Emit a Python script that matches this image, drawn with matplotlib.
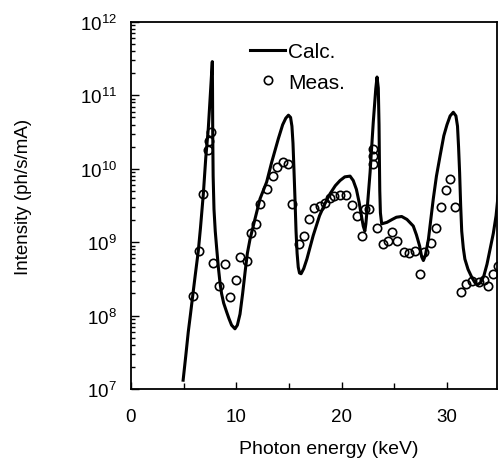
import matplotlib
matplotlib.use("Agg")
import matplotlib.pyplot as plt
import numpy as np
from matplotlib.ticker import LogLocator, FixedLocator, FuncFormatter, NullFormatter

plt.rcParams['font.family'] = ['Liberation Sans', 'DejaVu Sans']
plt.rcParams['mathtext.fontset'] = 'custom'
plt.rcParams['mathtext.rm'] = 'Liberation Sans'
plt.rcParams['mathtext.it'] = 'Liberation Sans:italic'
plt.rcParams['mathtext.bf'] = 'Liberation Sans:bold'

# calculated spectrum (photon energy keV, log10 intensity)
calc_x = [4.95, 5.2, 5.44, 5.65, 5.86, 6.1, 6.39, 6.6, 6.87, 7.1, 7.34, 7.55, 7.72,
          7.74, 7.76, 7.8, 7.88, 8.0, 8.14, 8.3, 8.45, 8.6, 8.8, 9.08, 9.3, 9.55,
          9.87, 10.1, 10.35, 10.6, 10.83, 11.05, 11.3, 11.78, 12.25, 12.88, 13.36,
          13.99, 14.4, 14.7, 14.95, 15.15, 15.28, 15.38, 15.47, 15.57, 15.67, 15.77,
          15.88, 16.0, 16.15, 16.4, 16.7, 17.0, 17.3, 17.9, 18.4, 18.9, 19.4, 19.85,
          20.3, 20.8, 21.1, 21.4, 21.65, 21.9, 22.05, 22.2, 22.3, 22.45, 22.7, 23.0,
          23.24, 23.36, 23.48, 23.55, 23.58, 23.62, 23.68, 23.8, 24.3, 24.8, 25.2,
          25.7, 26.2, 26.8, 27.1, 27.4, 27.6, 27.76, 27.95, 28.24, 28.7, 29.0, 29.35,
          29.7, 30.0, 30.3, 30.6, 30.85, 31.0, 31.1, 31.2, 31.3, 31.4, 31.55, 31.7,
          32.0, 32.36, 32.65, 32.9, 33.2, 33.5, 33.8, 34.1, 34.4, 34.66, 34.85]
calc_logy = [7.12, 7.45, 7.78, 8.02, 8.27, 8.55, 8.88, 9.2, 9.66, 10.15, 10.55, 11.05, 11.46,
             11.1, 10.5, 9.9, 9.45, 9.15, 8.91, 8.65, 8.45, 8.3, 8.17, 8.05, 7.96, 7.87,
             7.82, 7.87, 8.02, 8.3, 8.59, 8.85, 9.04, 9.32, 9.59, 9.82, 10.09,
             10.41, 10.6, 10.69, 10.73, 10.7, 10.58, 10.35, 10.0, 9.59, 9.15, 8.85,
             8.66, 8.58, 8.57, 8.64, 8.77, 8.93, 9.09, 9.36, 9.52, 9.66, 9.77, 9.84,
             9.89, 9.9, 9.84, 9.72, 9.55, 9.34, 9.22, 9.15, 9.25, 9.5, 9.95, 10.63,
             11.09, 11.25, 11.1, 10.6, 10.18, 9.7, 9.4, 9.25, 9.27, 9.31, 9.34,
             9.35, 9.31, 9.22, 9.1, 8.95, 8.8, 8.75, 8.82, 9.04, 9.59, 9.9, 10.18,
             10.45, 10.6, 10.72, 10.77, 10.72, 10.58, 10.3, 9.95, 9.5, 9.15, 8.92, 8.77,
             8.63, 8.52, 8.45, 8.42, 8.45, 8.54, 8.7, 8.91, 9.12, 9.36, 9.63]

# measured points
meas_x = [5.88, 6.45, 6.87, 7.35, 7.45, 7.55, 7.77, 8.34, 8.9, 9.38, 9.95, 10.33,
          11.0, 11.37, 11.85, 12.23, 12.9, 13.46, 13.84, 14.4, 14.88, 15.25, 15.95,
          16.4, 16.93, 17.4, 17.9, 18.4, 18.86, 19.3, 19.8, 20.4, 20.96, 21.43, 21.9,
          22.2, 22.6, 22.95, 22.95, 22.95, 23.4, 23.9, 24.4, 24.8, 25.25, 25.9, 26.4,
          27.0, 27.4, 27.8, 28.5, 29.0, 29.4, 29.9, 30.3, 30.8, 31.3, 31.8, 32.4,
          33.0, 33.5, 33.9, 34.4, 34.8]
meas_logy = [8.27, 8.88, 9.66, 10.25, 10.38, 10.5, 8.72, 8.40, 8.70, 8.25, 8.49, 8.80,
             8.74, 9.13, 9.25, 9.52, 9.72, 9.90, 10.02, 10.09, 10.07, 9.52, 8.98,
             9.08, 9.31, 9.46, 9.49, 9.53, 9.60, 9.63, 9.64, 9.64, 9.5, 9.35, 9.08,
             9.45, 9.45, 10.07, 10.17, 10.27, 9.20, 8.98, 9.02, 9.14, 9.02, 8.87, 8.85,
             8.88, 8.57, 8.87, 8.99, 9.19, 9.48, 9.71, 9.86, 9.48, 8.32, 8.43, 8.47,
             8.46, 8.49, 8.40, 8.57, 8.68]

x_major = [0, 10, 20, 30]
x_minor = [5, 15, 25]
y_decades = [7, 8, 9, 10, 11, 12]

fig = plt.figure(figsize=(4.99, 4.64), dpi=100)
ax = fig.add_axes([0.2625, 0.1595, 0.7335, 0.791])

ax.plot(calc_x, 10 ** np.array(calc_logy), '-', color='black', lw=2.2, label='Calc.',
        solid_joinstyle='round')
ax.plot(meas_x, 10 ** np.array(meas_logy), 'o', mfc='none', mec='black', ms=6, mew=1.2,
        label='Meas.')

ax.set_yscale('log')
ax.set_xlim(0, 34.75)
ax.set_ylim(1e7, 1e12)

ax.xaxis.set_major_locator(FixedLocator(x_major))
ax.xaxis.set_minor_locator(FixedLocator(x_minor))
ax.yaxis.set_major_locator(FixedLocator([10.0 ** d for d in y_decades]))
ax.yaxis.set_minor_locator(LogLocator(base=10, subs=np.arange(2, 10)))
ax.yaxis.set_minor_formatter(NullFormatter())
ax.yaxis.set_major_formatter(FuncFormatter(
    lambda v, p: r'$\mathregular{10^{%d}}$' % round(np.log10(v))))

ax.tick_params(which='both', direction='in', width=1.0, top=False, right=False)
ax.tick_params(axis='x', which='major', length=5, pad=14, labelsize=13.5)
ax.tick_params(axis='x', which='minor', length=4)
ax.tick_params(axis='y', which='major', length=6, pad=10, labelsize=13.5)
ax.tick_params(axis='y', which='minor', length=3)

for s in ax.spines.values():
    s.set_linewidth(1.3)

ax.set_xlabel('Photon energy (keV)', fontsize=14)
ax.set_ylabel('Intensity (ph/s/mA)', fontsize=13.5)
ax.xaxis.set_label_coords(0.54, -0.14)
ax.yaxis.set_label_coords(-0.27, 0.525)

ax.legend(loc='upper left', bbox_to_anchor=(0.325, 0.945), frameon=False,
          fontsize=15, handlelength=1.7, handletextpad=0.15, labelspacing=0.55,
          borderpad=0, borderaxespad=0)

fig.savefig('out.png', dpi=100)
